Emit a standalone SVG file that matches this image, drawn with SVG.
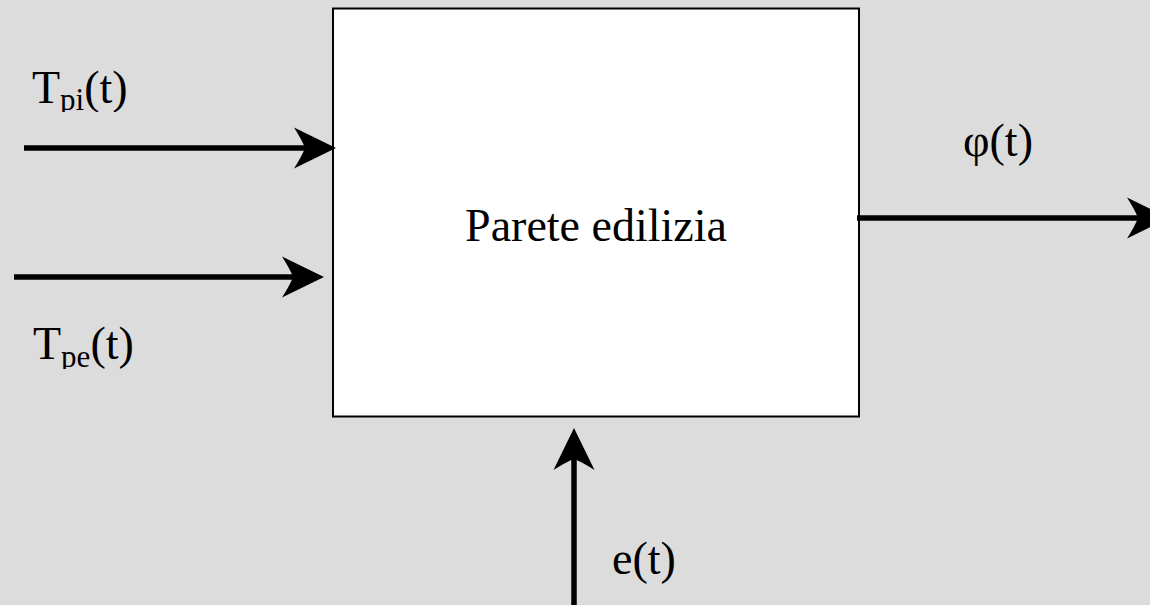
<svg xmlns="http://www.w3.org/2000/svg" width="1150" height="605" viewBox="0 0 1150 605">
  <style>
    .bg { fill: #dcdcdc; }
    .block { fill: #ffffff; stroke: #000000; stroke-width: 2; }
    .wire { stroke: #000000; stroke-width: 5.5; fill: none; }
    .head { fill: #000000; }
    .lbl { font-family: "Liberation Serif", "Times New Roman", serif; font-size: 46px; fill: #000000; }
    .sub { font-size: 31px; }
  </style>
  <defs>
    <!-- arrowhead pointing along +x, tip at origin -->
    <path id="arrowhead" class="head" d="M0,0 L-42,-20.5 Q-34,-8 -31,0 Q-34,8 -42,20.5 Z"/>
    <!-- the subscripts sit low and lose their descenders -->
    <clipPath id="clip-tpi"><rect x="0" y="50" width="200" height="62"/></clipPath>
    <clipPath id="clip-tpe"><rect x="0" y="306" width="200" height="63"/></clipPath>
  </defs>

  <rect class="bg" x="0" y="0" width="1150" height="605"/>

  <g id="parete">
    <rect class="block" x="333" y="8.5" width="526" height="408"/>
    <text class="lbl" x="596" y="241" text-anchor="middle">Parete edilizia</text>
  </g>

  <g id="connectors">
    <!-- T_pi(t) input -->
    <line class="wire" x1="24" y1="148" x2="322" y2="148"/>
    <use href="#arrowhead" transform="translate(336,148)"/>
    <!-- T_pe(t) input -->
    <line class="wire" x1="14" y1="277" x2="310" y2="277"/>
    <use href="#arrowhead" transform="translate(324,277)"/>
    <!-- phi(t) output -->
    <line class="wire" x1="857" y1="218" x2="1155" y2="218"/>
    <use href="#arrowhead" transform="translate(1169,218)"/>
    <!-- e(t) input from below -->
    <line class="wire" x1="574" y1="605" x2="574" y2="442"/>
    <use href="#arrowhead" transform="translate(574,428) rotate(-90)"/>
  </g>

  <g id="label-tpi" clip-path="url(#clip-tpi)">
    <text class="lbl" x="32" y="103">T<tspan class="sub" dy="7">pi</tspan><tspan dy="-7">(t)</tspan></text>
  </g>
  <g id="label-tpe" clip-path="url(#clip-tpe)">
    <text class="lbl" x="33" y="359">T<tspan class="sub" dy="8">pe</tspan><tspan dy="-8">(t)</tspan></text>
  </g>
  <g id="label-phi">
    <text class="lbl" x="963" y="156">φ(t)</text>
  </g>
  <g id="label-e">
    <text class="lbl" x="612" y="574">e(t)</text>
  </g>
</svg>
